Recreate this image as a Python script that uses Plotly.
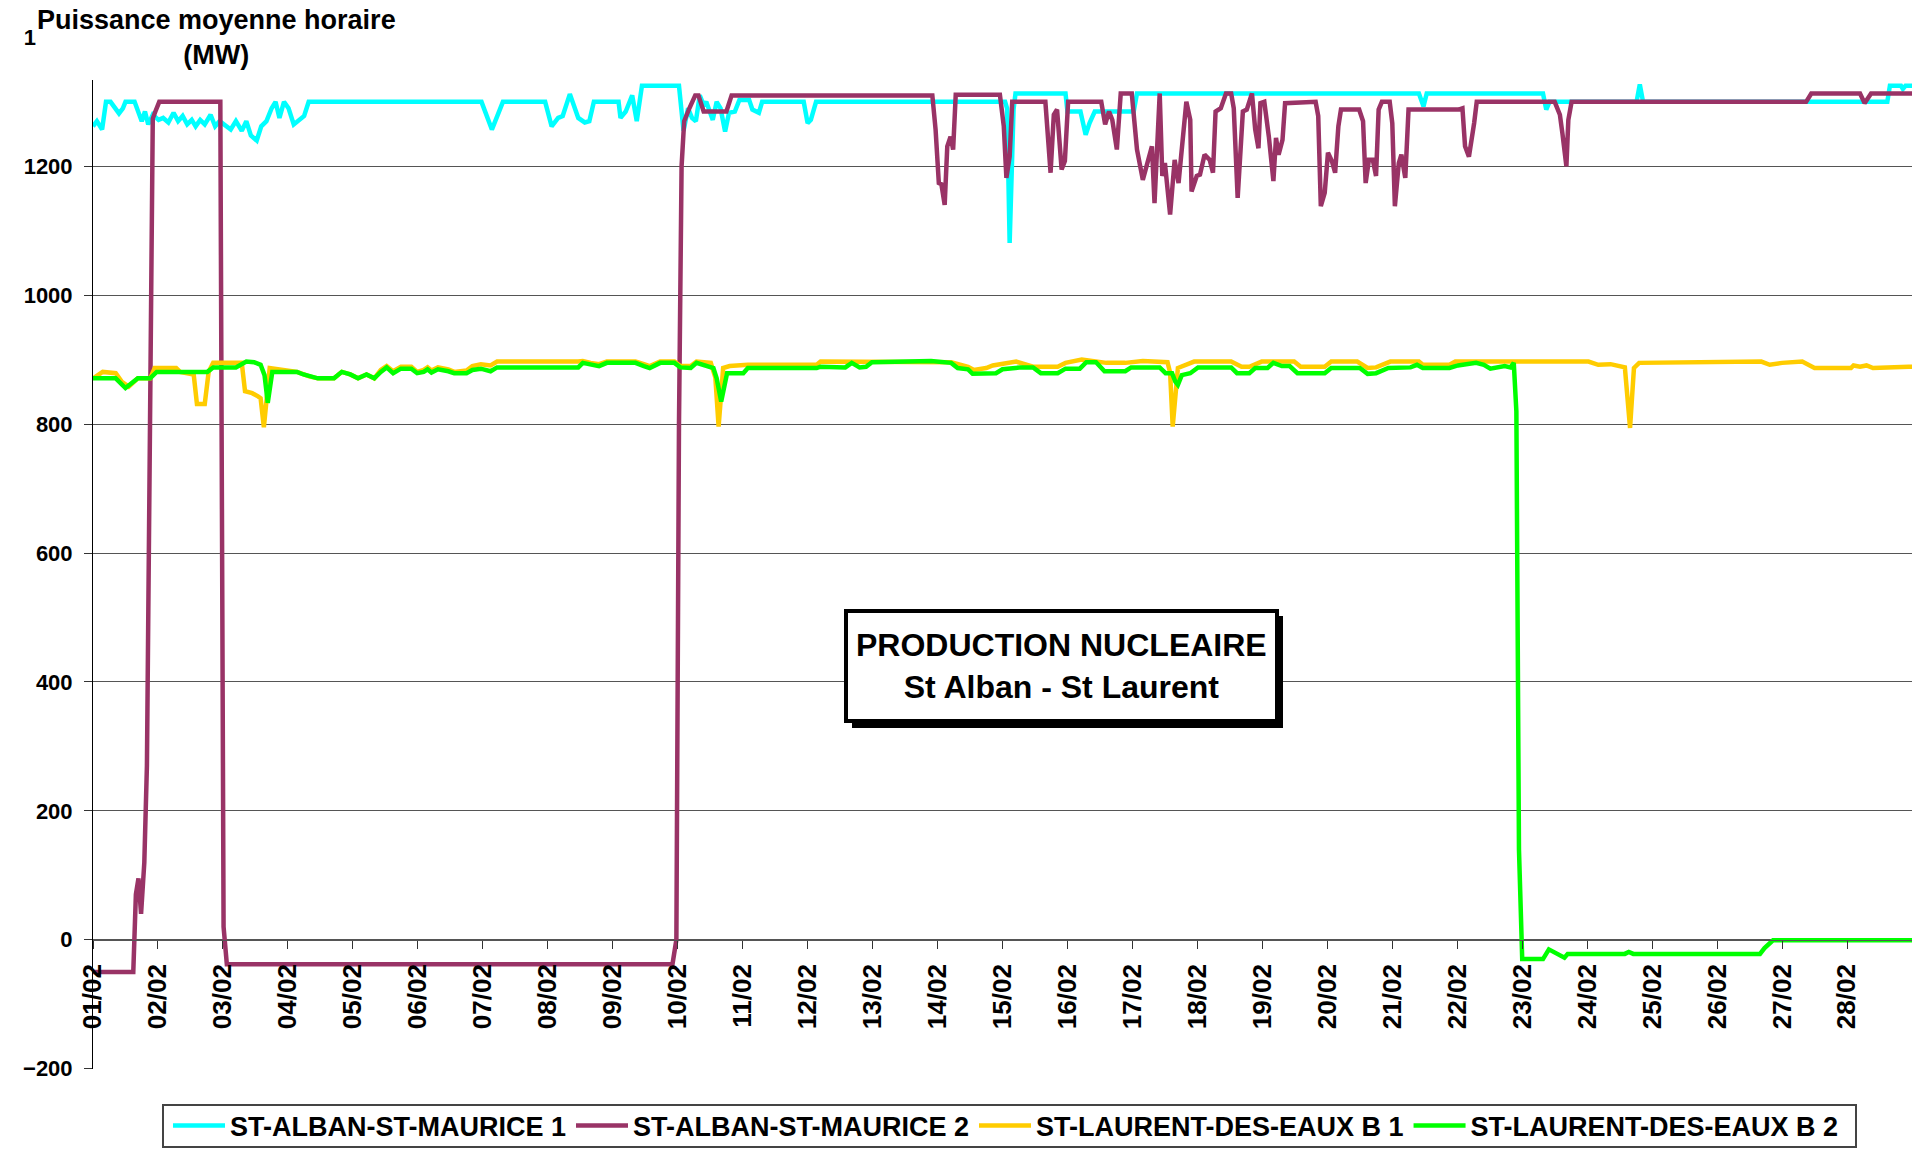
import plotly.graph_objects as go

# ---------------- data (time in days since 01/02 00:00, power in MW) ----------------
day_labels = ["%02d/02" % d for d in range(1, 29)]
day_ticks = list(range(0, 28))
y_ticks = list(range(-200, 1401, 200))

alban1_t = [0.00, 0.06, 0.14, 0.20, 0.27, 0.40, 0.46, 0.50, 0.64, 0.75, 0.80, 0.85, 0.92, 1.01, 1.08, 1.16,
            1.24, 1.31, 1.38, 1.45, 1.52, 1.58, 1.65, 1.72, 1.81, 1.88, 1.95, 2.02, 2.12, 2.20, 2.29, 2.36,
            2.43, 2.52, 2.59, 2.67, 2.75, 2.81, 2.87, 2.94, 3.01, 3.09, 3.18, 3.25, 3.32, 5.98, 6.14, 6.31,
            6.96, 7.06, 7.16, 7.23, 7.34, 7.47, 7.57, 7.64, 7.71, 8.09, 8.12, 8.20, 8.30, 8.37, 8.45, 9.02,
            9.09, 9.16, 9.22, 9.28, 9.34, 9.40, 9.44, 9.54, 9.60, 9.66, 9.73, 9.79, 9.88, 9.95, 10.10, 10.15,
            10.25, 10.30, 10.94, 11.00, 11.05, 11.13, 14.04, 14.07, 14.11, 14.17, 14.20, 14.97, 15.00, 15.20,
            15.28, 15.34, 15.42, 16.02, 16.07, 20.41, 20.48, 20.53, 22.32, 22.37, 22.42, 23.76, 23.81, 23.86,
            27.62, 27.66, 27.83, 27.86, 27.90, 28.00]
alban1_mw = [1262, 1270, 1257, 1300, 1300, 1282, 1290, 1300, 1300, 1270, 1285, 1265, 1280, 1272, 1275, 1268,
             1283, 1270, 1278, 1265, 1272, 1262, 1272, 1265, 1280, 1262, 1270, 1265, 1257, 1270, 1255, 1270,
             1248, 1240, 1262, 1270, 1290, 1300, 1275, 1300, 1290, 1265, 1272, 1278, 1300, 1300, 1257, 1300,
             1300, 1262, 1275, 1278, 1312, 1275, 1268, 1270, 1300, 1300, 1275, 1285, 1310, 1270, 1325, 1325,
             1255, 1290, 1275, 1270, 1310, 1295, 1300, 1272, 1300, 1290, 1254, 1283, 1285, 1303, 1303, 1288,
             1283, 1300, 1300, 1267, 1272, 1300, 1300, 1290, 1081, 1288, 1313, 1313, 1285, 1285,
             1249, 1267, 1285, 1285, 1313, 1313, 1293, 1313, 1313, 1288, 1300, 1300, 1327, 1300,
             1300, 1325, 1325, 1320, 1325, 1325]

alban2_t = [0.00, 0.62, 0.66, 0.70, 0.74, 0.79, 0.83, 0.88, 0.92, 0.96, 1.02, 1.96, 2.01, 2.06, 8.92, 8.98,
            9.02, 9.06, 9.10, 9.18, 9.22, 9.27, 9.32, 9.40, 9.75, 9.83, 12.92, 12.97, 13.02, 13.06, 13.11,
            13.15, 13.20, 13.24, 13.28, 13.96, 14.02, 14.06, 14.11, 14.15, 14.66, 14.74, 14.79, 14.84, 14.91,
            14.96, 15.01, 15.52, 15.58, 15.64, 15.69, 15.76, 15.82, 15.99, 16.07, 16.16, 16.23, 16.30, 16.34,
            16.42, 16.46, 16.50, 16.58, 16.65, 16.71, 16.83, 16.89, 16.91, 16.99, 17.04, 17.11, 17.19, 17.24,
            17.28, 17.36, 17.44, 17.52, 17.56, 17.62, 17.70, 17.76, 17.84, 17.89, 17.94, 17.97, 18.03, 18.10,
            18.17, 18.21, 18.25, 18.31, 18.35, 18.82, 18.86, 18.90, 18.96, 19.01, 19.07, 19.12, 19.17, 19.21,
            19.49, 19.55, 19.59, 19.64, 19.70, 19.75, 19.79, 19.84, 19.96, 20.00, 20.04, 20.10, 20.14, 20.20,
            20.25, 21.02, 21.08, 21.12, 21.18, 21.26, 21.30, 22.50, 22.58, 22.62, 22.68, 22.71, 22.76, 26.37,
            26.45, 27.20, 27.27, 27.37, 28.00]
alban2_mw = [-50, -50, 70, 95, 40, 120, 270, 900, 1274, 1285, 1300, 1300, 20, -38, -38, 0,
             800, 1200, 1270, 1290, 1300, 1310, 1310, 1285, 1285, 1310, 1310, 1257, 1174, 1172, 1140,
             1231, 1246, 1226, 1311, 1311, 1262, 1182, 1215, 1300, 1300, 1190, 1280, 1288, 1195,
             1208, 1300, 1300, 1265, 1285, 1272, 1226, 1313, 1313, 1226, 1179, 1205, 1231, 1143,
             1313, 1185, 1205, 1125, 1210, 1174, 1300, 1272, 1161, 1185, 1187, 1218, 1210, 1190,
             1285, 1290, 1313, 1313, 1290, 1151, 1285, 1288, 1313, 1257, 1228, 1298, 1300, 1246,
             1177, 1244, 1218, 1241, 1298, 1300, 1278, 1138, 1159, 1221, 1208, 1190, 1262, 1288,
             1288, 1270, 1174, 1210, 1210, 1185, 1288, 1300, 1300, 1267, 1138, 1205, 1218, 1182,
             1288, 1288, 1290, 1231, 1215, 1267, 1300, 1300, 1280, 1250, 1200, 1272, 1300, 1300,
             1313, 1313, 1298, 1313, 1313]

laurent1_t = [0.00, 0.15, 0.35, 0.45, 0.55, 0.69, 0.88, 0.95, 1.28, 1.34, 1.55, 1.60, 1.72, 1.78, 1.85, 2.29,
              2.34, 2.45, 2.54, 2.58, 2.63, 2.67, 2.72, 3.14, 3.24, 3.33, 3.46, 3.71, 3.83, 3.96, 4.08, 4.21,
              4.33, 4.43, 4.52, 4.62, 4.74, 4.90, 4.99, 5.09, 5.15, 5.21, 5.31, 5.47, 5.56, 5.75, 5.84, 5.97,
              6.12, 6.22, 7.47, 7.54, 7.66, 7.79, 7.91, 8.35, 8.48, 8.57, 8.73, 8.95, 9.04, 9.20, 9.29, 9.51,
              9.58, 9.63, 9.70, 9.80, 10.08, 11.14, 11.20, 12.90, 13.21, 13.47, 13.56, 13.75, 13.85, 14.21,
              14.47, 14.85, 14.97, 15.22, 15.44, 15.60, 15.89, 16.16, 16.54, 16.58, 16.62, 16.66, 16.70, 16.95,
              17.52, 17.68, 17.80, 17.99, 18.49, 18.59, 18.96, 19.06, 19.46, 19.62, 19.75, 19.97, 20.41, 20.47,
              20.88, 20.97, 23.02, 23.17, 23.36, 23.58, 23.66, 23.72, 23.80, 25.68, 25.81, 26.00, 26.31, 26.50,
              27.06, 27.10, 27.20, 27.30, 27.40, 27.95, 28.00]
laurent1_mw = [871, 881, 879, 865, 858, 871, 871, 887, 887, 881, 877, 831, 831, 881, 895, 895,
               851, 848, 843, 840, 795, 840, 887, 881, 877, 874, 871, 871, 881, 877, 871, 877,
               871, 884, 890, 882, 889, 889, 881, 884, 888, 883, 888, 885, 881, 883, 890, 893,
               891, 897, 897, 898, 895, 893, 897, 897, 893, 890, 897, 897, 890, 890, 897, 895,
               872, 796, 887, 890, 892, 892, 897, 897, 896, 889, 884, 887, 891, 897,
               889, 889, 895, 900, 897, 895, 895, 898, 896, 880, 796, 850, 887, 897,
               897, 889, 889, 897, 897, 889, 889, 897, 897, 887, 888, 897, 897, 892,
               892, 897, 897, 892, 893, 888, 794, 887, 895, 897, 892, 895, 897, 887,
               887, 891, 889, 891, 887, 889, 889]

laurent2_t = [0.00, 0.35, 0.50, 0.57, 0.69, 0.88, 0.98, 1.76, 1.85, 2.20, 2.36, 2.48, 2.58, 2.64, 2.69, 2.76,
              3.14, 3.24, 3.33, 3.46, 3.71, 3.83, 3.96, 4.08, 4.21, 4.33, 4.43, 4.52, 4.62, 4.74, 4.90, 4.99,
              5.09, 5.15, 5.21, 5.31, 5.47, 5.56, 5.75, 5.84, 5.97, 6.12, 6.22, 7.47, 7.54, 7.66, 7.79, 7.91,
              8.35, 8.48, 8.57, 8.73, 8.95, 9.04, 9.20, 9.29, 9.45, 9.55, 9.60, 9.67, 9.76, 10.01, 10.08, 11.14,
              11.20, 11.58, 11.68, 11.80, 11.90, 11.99, 12.90, 13.21, 13.31, 13.47, 13.54, 13.90, 14.00, 14.28,
              14.47, 14.59, 14.85, 14.97, 15.19, 15.29, 15.44, 15.57, 15.89, 15.98, 16.42, 16.51, 16.61, 16.66,
              16.70, 16.76, 16.89, 17.01, 17.52, 17.61, 17.80, 17.89, 18.08, 18.17, 18.30, 18.42, 18.54, 18.96,
              19.06, 19.50, 19.62, 19.75, 19.94, 20.28, 20.38, 20.47, 20.88, 21.01, 21.29, 21.41, 21.51, 21.73,
              21.82, 21.87, 21.91, 21.95, 22.00, 22.32, 22.41, 22.47, 22.58, 22.65, 22.70, 23.58, 23.64, 23.71,
              25.66, 25.73, 25.86, 28.00]
laurent2_mw = [871, 871, 856, 861, 871, 871, 881, 881, 888, 888, 897, 896, 892, 876, 833, 881,
               881, 877, 874, 871, 871, 881, 877, 871, 877, 871, 881, 888, 879, 886, 886, 879,
               881, 885, 880, 885, 882, 879, 879, 884, 886, 882, 888, 888, 895, 893, 890, 895,
               895, 890, 887, 895, 895, 888, 887, 895, 889, 887, 871, 835, 879, 879, 887, 887,
               889, 888, 895, 888, 889, 896, 898, 895, 887, 885, 878, 879, 885, 888,
               888, 879, 879, 886, 886, 896, 896, 882, 882, 888, 888, 879, 879, 866,
               861, 876, 879, 888, 888, 879, 879, 887, 887, 895, 890, 890, 879, 879,
               887, 887, 878, 879, 887, 888, 892, 887, 887, 891, 895, 892, 886, 890,
               888, 895, 820, 140, -30, -30, -15, -18, -23, -28, -22, -22, -19, -22,
               -22, -13, -1, -1]

series = [
    ("ST-ALBAN-ST-MAURICE 1", alban1_t, alban1_mw, "#00FFFF"),
    ("ST-ALBAN-ST-MAURICE 2", alban2_t, alban2_mw, "#993366"),
    ("ST-LAURENT-DES-EAUX B 1", laurent1_t, laurent1_mw, "#FFCC00"),
    ("ST-LAURENT-DES-EAUX B 2", laurent2_t, laurent2_mw, "#00FF00"),
]

# ---------------- layout geometry (pixels) ----------------
W, H = 1922, 1150
ML, MR, MT, MB = 93, 10, 37, 81
PW, PH = W - ML - MR, H - MT - MB
Y_LO, Y_HI = -200.6, 1400.6


def px(X):
    return (X - ML) / PW


def py(Y):
    return (H - MB - Y) / PH


FONT = "Arial, 'Liberation Sans', sans-serif"

fig = go.Figure()
for name, t, v, c in series:
    fig.add_trace(go.Scatter(x=t, y=v, mode="lines", name=name,
                             line=dict(color=c, width=4.5)))

shapes = [
    # white box behind the axis title (covers top-left)
    dict(type="rect", xref="paper", yref="paper", x0=px(36), x1=px(404), y0=py(80), y1=py(-5),
         fillcolor="white", line=dict(width=0), layer="above"),
    # shadow of the caption box
    dict(type="rect", xref="paper", yref="paper", x0=px(852), x1=px(1283), y0=py(728), y1=py(616),
         fillcolor="black", line=dict(width=0), layer="above"),
    # caption box
    dict(type="rect", xref="paper", yref="paper", x0=px(846), x1=px(1277), y0=py(721), y1=py(611),
         fillcolor="white", line=dict(color="black", width=4), layer="above"),
    # legend frame
    dict(type="rect", xref="paper", yref="paper", x0=px(163), x1=px(1856), y0=py(1147), y1=py(1105),
         fillcolor="rgba(0,0,0,0)", line=dict(color="#444444", width=2), layer="above"),
]

annotations = [
    dict(xref="paper", yref="paper", x=px(216), y=py(37), xanchor="center", yanchor="middle",
         text="Puissance moyenne horaire<br>(MW)", showarrow=False, align="center",
         font=dict(family=FONT, size=27, color="black", weight="bold")),
    dict(xref="paper", yref="paper", x=px(1061), y=py(666), xanchor="center", yanchor="middle",
         text="PRODUCTION NUCLEAIRE<br>St Alban - St Laurent", showarrow=False, align="center",
         font=dict(family=FONT, size=32, color="black", weight="bold")),
]

fig.update_layout(
    width=W, height=H,
    margin=dict(l=ML, r=MR, t=MT, b=MB, pad=0, autoexpand=False),
    paper_bgcolor="white", plot_bgcolor="white",
    showlegend=True,
    legend=dict(orientation="h", x=px(1006), xanchor="center", y=py(1126), yanchor="middle",
                borderwidth=0, bgcolor="rgba(0,0,0,0)",
                font=dict(family=FONT, size=27, color="black", weight="bold"),
                itemwidth=52, tracegroupgap=0),
    shapes=shapes,
    annotations=annotations,
    xaxis=dict(range=[0, 28], tickvals=day_ticks, ticktext=day_labels, tickangle=-90,
               anchor="free", position=(0 - Y_LO) / (Y_HI - Y_LO), showgrid=False, zeroline=False,
               showline=True, linecolor="#555555", linewidth=1,
               ticks="outside", ticklen=8, tickcolor="#333333", tickwidth=1,
               ticklabelstandoff=5,
               tickfont=dict(family=FONT, size=26, color="black", weight="bold")),
    yaxis=dict(range=[Y_LO, Y_HI], tickvals=y_ticks, showgrid=True,
               gridcolor="#555555", gridwidth=1, zeroline=False,
               showline=True, linecolor="black", linewidth=1,
               ticks="outside", ticklen=8, tickcolor="#333333",
               ticklabelstandoff=7,
               tickfont=dict(family=FONT, size=22, color="black", weight="bold")),
)

fig.write_html("out.html", post_script="document.body.style.margin='0';",
               config={"displayModeBar": False})
